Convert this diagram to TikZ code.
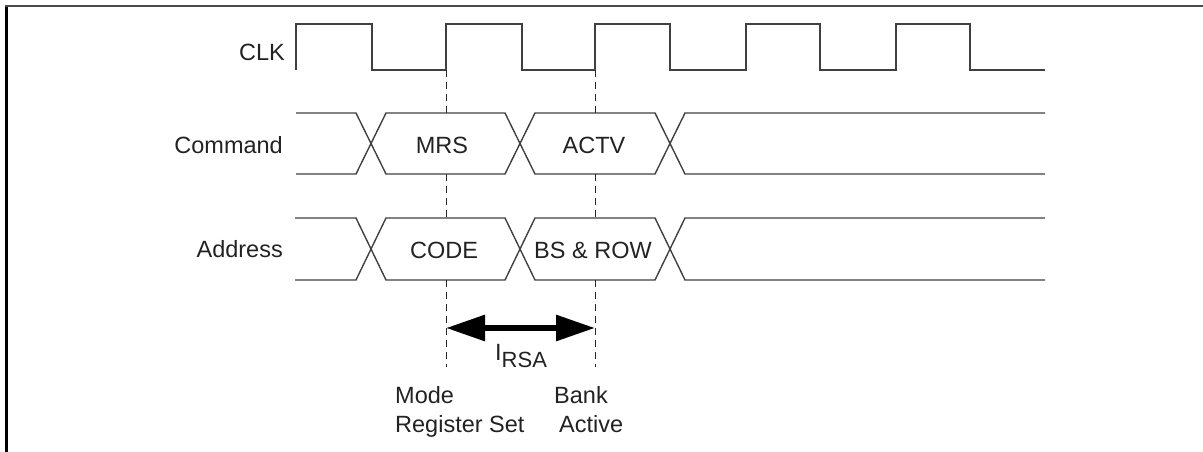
\documentclass[tikz,border=0pt]{standalone}
\usepackage{fontspec}
\setmainfont{Liberation Sans}
\usetikzlibrary{arrows.meta}
\definecolor{wavegray}{HTML}{404040}
\definecolor{textgray}{HTML}{222222}
\begin{document}
\begin{tikzpicture}[x=1pt,y=-1pt,
  wave/.style={draw=wavegray,line width=1.4pt,line join=miter},
  guide/.style={draw=black!85,line width=1pt,dash pattern=on 7pt off 5pt},
  lbl/.style={inner sep=0pt,text=textgray,font=\fontsize{23.5}{28}\selectfont},
  timing/.style={line width=6pt,{Triangle[length=39pt,width=25pt]}-{Triangle[length=39pt,width=25pt]}}]
\useasboundingbox (0,0) rectangle (1203,452);
% frame
\draw[black,line width=3pt] (6.5,5) -- (6.5,452);
\draw[black!70,line width=2pt] (5,6) -- (1203,6);
% signal names
\node[lbl,anchor=base east] (clk) at (285,61) {CLK};
\node[lbl,anchor=base east] (cmd) at (283,153) {Command};
\node[lbl,anchor=base east] (addr) at (283,257) {Address};
% clock
\draw[wave] (296,70) -- (296,24) -- (372,24) -- (372,70) -- (446,70) -- (446,24)
  -- (522,24) -- (522,70) -- (595,70) -- (595,24) -- (670,24) -- (670,70)
  -- (746,70) -- (746,24) -- (820,24) -- (820,70) -- (896,70) -- (896,24)
  -- (970,24) -- (970,70) -- (1045,70);
% buses
\foreach \t/\b/\s in {113/174/296, 218/280/295}{
  \draw[wave] (\s,\t) -- (356,\t) -- (386,\b) -- (505,\b) -- (535,\t) -- (655,\t) -- (685,\b) -- (1045,\b);
  \draw[wave] (\s,\b) -- (356,\b) -- (386,\t) -- (505,\t) -- (535,\b) -- (655,\b) -- (685,\t) -- (1045,\t);
}
% bus values
\node[lbl,anchor=base] (mrs) at (442,153) {MRS};
\node[lbl,anchor=base] (actv) at (594,153) {ACTV};
\node[lbl,anchor=base] (code) at (444,258) {CODE};
\node[lbl,anchor=base] (bsrow) at (593,258) {BS \& ROW};
% guides
\foreach \x in {446,595}{
  \draw[guide] (\x,70) -- (\x,113);
  \draw[guide] (\x,174) -- (\x,218);
  \draw[guide] (\x,280) -- (\x,367);
}
\coordinate (mrsedge) at (446,328);
\coordinate (actedge) at (595,328);
\draw[timing] (mrsedge) -- (actedge);
\node[lbl,anchor=base west] (irsa) at (495,360) {I\raisebox{-7pt}{\fontsize{22}{26}\selectfont RSA}};
% event labels
\node[lbl,anchor=base west] (mode) at (395,403) {Mode};
\node[lbl,anchor=base west] (regset) at (395,432) {Register Set};
\node[lbl,anchor=base west] (bank) at (554,403) {Bank};
\node[lbl,anchor=base west] (active) at (559,432) {Active};
\end{tikzpicture}
\end{document}
